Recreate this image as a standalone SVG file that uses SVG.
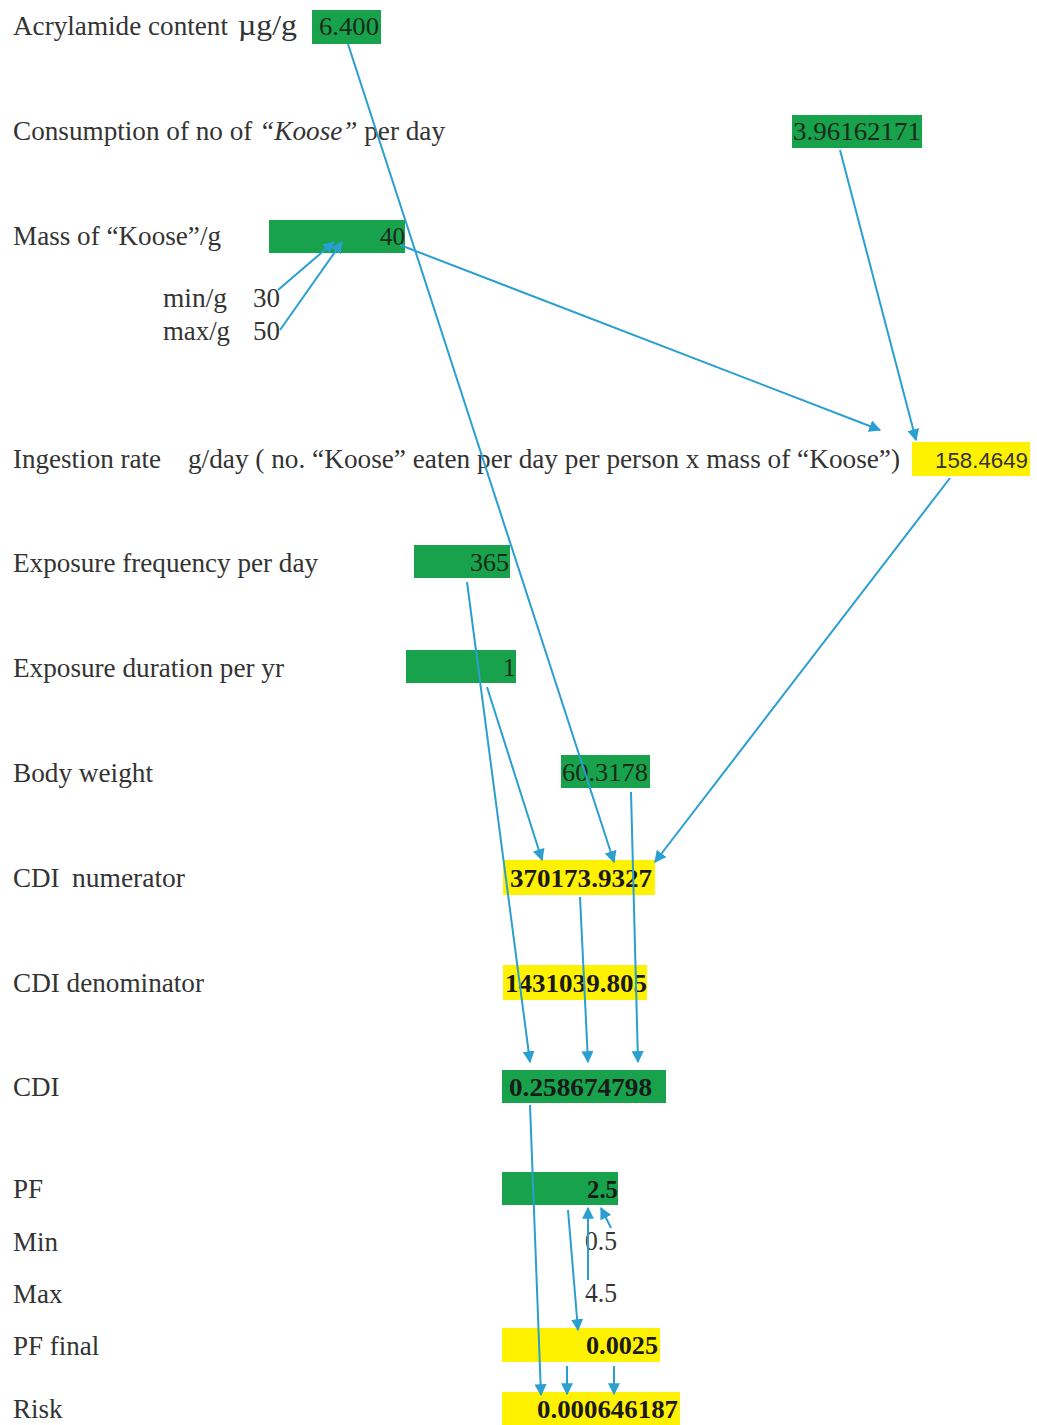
<svg xmlns="http://www.w3.org/2000/svg" width="1037" height="1425" viewBox="0 0 1037 1425">
<style>
text{font-family:"Liberation Serif","Times New Roman",serif;fill:#333333}
.lb{font-size:27px}
.v{font-size:25px;fill:#1c2a1c}
.b{font-weight:bold;fill:#1a1a1a}
.g{fill:#17a24b}
.y{fill:#fff200}
.c line{stroke:#2a9fd0;stroke-width:2;marker-end:url(#ah)}
</style>
<defs>
<marker id="ah" viewBox="0 0 10 10" refX="9" refY="5" markerWidth="6" markerHeight="6" orient="auto-start-reverse" markerUnits="strokeWidth">
<path d="M0,0 L10,5 L0,10 z" fill="#2a9fd0"/>
</marker>
</defs>
<rect width="1037" height="1425" fill="#ffffff"/>
<g id="labels">
<text class="lb" x="13" y="35" textLength="215" lengthAdjust="spacingAndGlyphs">Acrylamide content</text>
<text x="238" y="35" font-size="30" textLength="59" lengthAdjust="spacingAndGlyphs">µg/g</text>
<text class="lb" x="13" y="140" textLength="432" lengthAdjust="spacingAndGlyphs">Consumption of no of <tspan font-style="italic">“Koose”</tspan> per day</text>
<text class="lb" x="13" y="245" textLength="208" lengthAdjust="spacingAndGlyphs">Mass of “Koose”/g</text>
<text class="lb" x="13" y="468" textLength="148" lengthAdjust="spacingAndGlyphs">Ingestion rate</text>
<text class="lb" x="188" y="468" textLength="712" lengthAdjust="spacingAndGlyphs">g/day ( no. “Koose” eaten per day per person x mass of “Koose”)</text>
<text class="lb" x="13" y="572" textLength="305" lengthAdjust="spacingAndGlyphs">Exposure frequency per day</text>
<text class="lb" x="13" y="677" textLength="271" lengthAdjust="spacingAndGlyphs">Exposure duration per yr</text>
<text class="lb" x="13" y="782" textLength="140" lengthAdjust="spacingAndGlyphs">Body weight</text>
<text class="lb" x="13" y="887">CDI</text>
<text class="lb" x="72" y="887" textLength="113" lengthAdjust="spacingAndGlyphs">numerator</text>
<text class="lb" x="13" y="992" textLength="191" lengthAdjust="spacingAndGlyphs">CDI denominator</text>
<text class="lb" x="13" y="1096">CDI</text>
<text class="lb" x="13" y="1198">PF</text>
<text class="lb" x="13" y="1251">Min</text>
<text class="lb" x="13" y="1303">Max</text>
<text class="lb" x="13" y="1355">PF final</text>
<text class="lb" x="13" y="1418">Risk</text>
</g>
<g id="n-acrylamide"><rect class="g" x="312" y="10" width="69" height="34"/><text class="v" x="319" y="35" textLength="60" lengthAdjust="spacingAndGlyphs">6.400</text></g>
<g id="n-consumption"><rect class="g" x="792" y="115" width="130" height="33"/><text class="v" x="793" y="140" textLength="128" lengthAdjust="spacingAndGlyphs">3.96162171</text></g>
<g id="n-mass"><rect class="g" x="269" y="220" width="136" height="33"/><text class="v" x="380" y="245" textLength="25" lengthAdjust="spacingAndGlyphs">40</text></g>
<g id="n-min"><text class="lb" x="163" y="307" textLength="64" lengthAdjust="spacingAndGlyphs">min/g</text><text class="lb" x="253" y="307">30</text></g>
<g id="n-max"><text class="lb" x="163" y="340" textLength="67" lengthAdjust="spacingAndGlyphs">max/g</text><text class="lb" x="253" y="340">50</text></g>
<g id="n-ingestion"><rect class="y" x="912" y="442" width="118" height="34"/><text x="935" y="468" font-size="22" textLength="93" lengthAdjust="spacingAndGlyphs" style="font-family:'Liberation Sans',Arial,sans-serif">158.4649</text></g>
<g id="n-freq"><rect class="g" x="414" y="545" width="96" height="33"/><text class="v" x="470" y="571" textLength="39" lengthAdjust="spacingAndGlyphs">365</text></g>
<g id="n-duration"><rect class="g" x="406" y="650" width="110" height="33"/><text class="v" x="503" y="676">1</text></g>
<g id="n-bw"><rect class="g" x="561" y="755" width="89" height="33"/><text class="v" x="562" y="781" textLength="86" lengthAdjust="spacingAndGlyphs">60.3178</text></g>
<g id="n-num"><rect class="y" x="503" y="860" width="152" height="35"/><text class="v b" x="510" y="887" textLength="142" lengthAdjust="spacingAndGlyphs">370173.9327</text></g>
<g id="n-den"><rect class="y" x="503" y="965" width="144" height="35"/><text class="v b" x="505" y="992" textLength="142" lengthAdjust="spacingAndGlyphs">1431039.805</text></g>
<g id="n-cdi"><rect class="g" x="502" y="1070" width="164" height="33"/><text class="v b" x="509" y="1096" textLength="143" lengthAdjust="spacingAndGlyphs">0.258674798</text></g>
<g id="n-pf"><rect class="g" x="502" y="1172" width="116" height="33"/><text class="v b" x="587" y="1198" textLength="31" lengthAdjust="spacingAndGlyphs">2.5</text></g>
<g id="n-pfmin"><text class="lb" x="585" y="1250" textLength="32" lengthAdjust="spacingAndGlyphs">0.5</text></g>
<g id="n-pfmax"><text class="lb" x="585" y="1302" textLength="32" lengthAdjust="spacingAndGlyphs">4.5</text></g>
<g id="n-pffinal"><rect class="y" x="502" y="1328" width="158" height="34"/><text class="v b" x="586" y="1354" textLength="72" lengthAdjust="spacingAndGlyphs">0.0025</text></g>
<g id="n-risk"><rect class="y" x="502" y="1392" width="178" height="33"/><text class="v b" x="537" y="1418" textLength="141" lengthAdjust="spacingAndGlyphs">0.000646187</text></g>
<g id="connectors" class="c">
<line x1="348" y1="44" x2="614" y2="862"/>
<line x1="400" y1="245" x2="880" y2="430"/>
<line x1="840" y1="150" x2="916" y2="440"/>
<line x1="278" y1="290" x2="334" y2="242"/>
<line x1="280" y1="330" x2="342" y2="242"/>
<line x1="950" y1="478" x2="655" y2="862"/>
<line x1="467" y1="582" x2="530" y2="1062"/>
<line x1="487" y1="687" x2="542" y2="860"/>
<line x1="631" y1="792" x2="638" y2="1062"/>
<line x1="580" y1="897" x2="588" y2="1062"/>
<line x1="530" y1="1105" x2="541" y2="1395"/>
<line x1="568" y1="1210" x2="578" y2="1330"/>
<line x1="588" y1="1280" x2="588" y2="1208"/>
<line x1="611" y1="1228" x2="601" y2="1208"/>
<line x1="567" y1="1366" x2="567" y2="1394"/>
<line x1="614" y1="1366" x2="614" y2="1394"/>
</g>
</svg>
